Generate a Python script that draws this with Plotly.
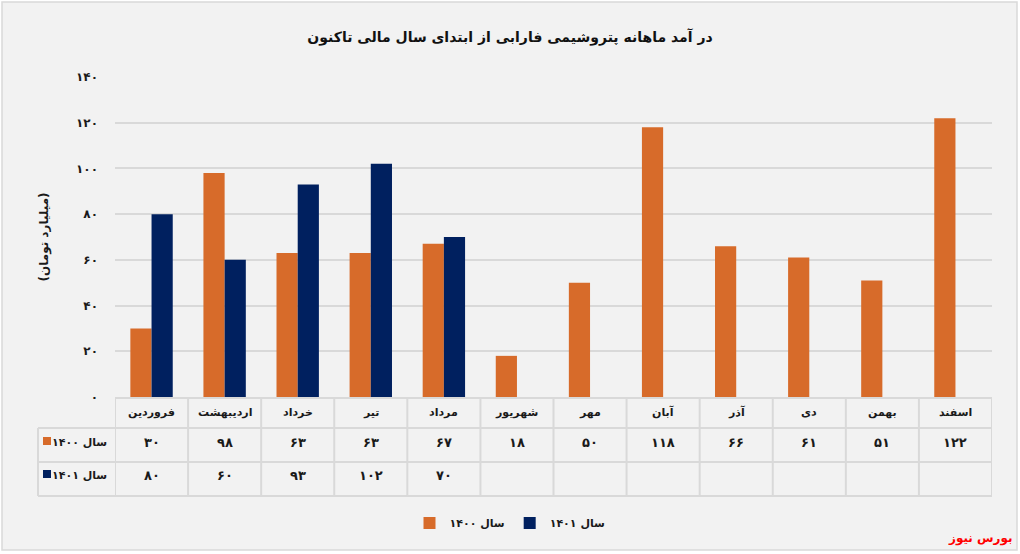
import plotly.graph_objects as go

months = ["فروردین", "اردیبهشت", "خرداد", "تیر", "مرداد", "شهریور",
          "مهر", "آبان", "آذر", "دی", "بهمن", "اسفند"]
sales_1400 = [30, 98, 63, 63, 67, 18, 50, 118, 66, 61, 51, 122]
sales_1401 = [80, 60, 93, 102, 70, None, None, None, None, None, None, None]
series_names = ["سال ۱۴۰۰", "سال ۱۴۰۱"]
tick_vals = [0, 20, 40, 60, 80, 100, 120, 140]
tick_text = ["۰", "۲۰", "۴۰", "۶۰", "۸۰", "۱۰۰", "۱۲۰", "۱۴۰"]
title_text = "در آمد ماهانه پتروشیمی فارابی از ابتدای سال مالی تاکنون"
y_title = "(میلیارد تومان)"
source_text = "بورس نیوز"

W, H = 1020, 554
L, R, T, B = 115, 28, 77, 157
PW, PH = W - L - R, H - T - B
SHIFT = 8  # annotation text baseline compensation

def fa(n):
    return str(n).translate(str.maketrans("0123456789", "۰۱۲۳۴۵۶۷۸۹"))

def px(x):
    return (x - L) / PW

def py(y):
    return (H - B - y) / PH

ORANGE = "#d76b2a"
NAVY = "#00205f"
GRID = "#d9d9d9"
FONT = "DejaVu Sans"
TXT = "#1a1a1a"

fig = go.Figure()
fig.add_bar(x=list(range(12)), y=sales_1400, name=series_names[0],
            marker=dict(color=ORANGE, line=dict(width=0)))
fig.add_bar(x=list(range(12)), y=sales_1401, name=series_names[1],
            marker=dict(color=NAVY, line=dict(width=0)))

shapes = []
shapes.append(dict(type="rect", xref="paper", yref="paper", layer="below",
                   x0=px(2), x1=px(1017), y0=py(2), y1=py(550),
                   fillcolor="#f2f2f2", line=dict(color=GRID, width=1.5)))
shapes.append(dict(type="line", xref="paper", yref="paper",
                   x0=px(115), x1=px(992), y0=py(398), y1=py(398),
                   line=dict(color=GRID, width=2)))
for yy in [428, 462, 496]:
    shapes.append(dict(type="line", xref="paper", yref="paper",
                       x0=px(38), x1=px(992), y0=py(yy), y1=py(yy),
                       line=dict(color=GRID, width=2)))
shapes.append(dict(type="line", xref="paper", yref="paper",
                   x0=px(38), x1=px(38), y0=py(428), y1=py(496),
                   line=dict(color=GRID, width=2)))
for k in range(13):
    shapes.append(dict(type="line", xref="x", yref="paper",
                       x0=k - 0.5, x1=k - 0.5, y0=py(398), y1=py(496),
                       line=dict(color=GRID, width=2)))
for yc, col in [(441, ORANGE), (474, NAVY)]:
    shapes.append(dict(type="rect", xref="paper", yref="paper",
                       x0=px(43), x1=px(51), y0=py(yc - 4), y1=py(yc + 4),
                       fillcolor=col, line=dict(width=0)))

ann = []
for i, m in enumerate(months):
    ann.append(dict(x=i, y=py(413 + SHIFT), xref="x", yref="paper", text=m,
                    showarrow=False, font=dict(family=FONT, size=11, color=TXT, weight="bold")))
    ann.append(dict(x=i, y=py(444 + SHIFT), xref="x", yref="paper", text=fa(sales_1400[i]),
                    showarrow=False, font=dict(family=FONT, size=13, color=TXT, weight="bold")))
    if sales_1401[i] is not None:
        ann.append(dict(x=i, y=py(477 + SHIFT), xref="x", yref="paper", text=fa(sales_1401[i]),
                        showarrow=False, font=dict(family=FONT, size=13, color=TXT, weight="bold")))
for yc, name in [(443, series_names[0]), (476, series_names[1])]:
    ann.append(dict(x=px(109), y=py(yc + SHIFT), xref="paper", yref="paper", text=name,
                    xanchor="right", showarrow=False,
                    font=dict(family=FONT, size=11, color=TXT, weight="bold")))
ann.append(dict(x=px(42 - SHIFT), y=py(237), xref="paper", yref="paper", text=y_title,
                textangle=-90, showarrow=False,
                font=dict(family=FONT, size=12, color=TXT, weight="bold")))
ann.append(dict(x=px(1015), y=py(545 + 3), xref="paper", yref="paper", text=source_text,
                xanchor="right", showarrow=False,
                font=dict(family=FONT, size=12, color="#ff0000", weight="bold")))

fig.update_layout(
    width=W, height=H,
    margin=dict(l=L, r=R, t=T, b=B, autoexpand=False),
    paper_bgcolor="white", plot_bgcolor="rgba(0,0,0,0)",
    barmode="group", bargap=0.42, bargroupgap=0,
    title=dict(text=title_text, x=0.5, xref="container", xanchor="center",
               y=1 - 37 / H, yref="container", yanchor="middle",
               font=dict(family=FONT, size=14, color="#111111", weight="bold")),
    xaxis=dict(range=[-0.5, 11.5], showticklabels=False, showgrid=False,
               zeroline=False, showline=False, ticks=""),
    yaxis=dict(range=[0, 140], tickvals=tick_vals, ticktext=tick_text,
               showgrid=True, gridcolor=GRID, gridwidth=1.5, zeroline=False,
               showline=False, ticks="", ticklabelstandoff=16,
               tickfont=dict(family=FONT, size=12, color=TXT, weight="bold")),
    legend=dict(orientation="h", x=0.5, xref="container", xanchor="center",
                y=1 - 523 / H, yref="container", yanchor="middle",
                font=dict(family=FONT, size=11, color=TXT, weight="bold"),
                itemwidth=30, bgcolor="rgba(0,0,0,0)"),
    shapes=shapes, annotations=ann, showlegend=True,
)

fig.write_html("out.html", config={"displayModeBar": False},
               post_script="document.body.style.margin='0px';")
